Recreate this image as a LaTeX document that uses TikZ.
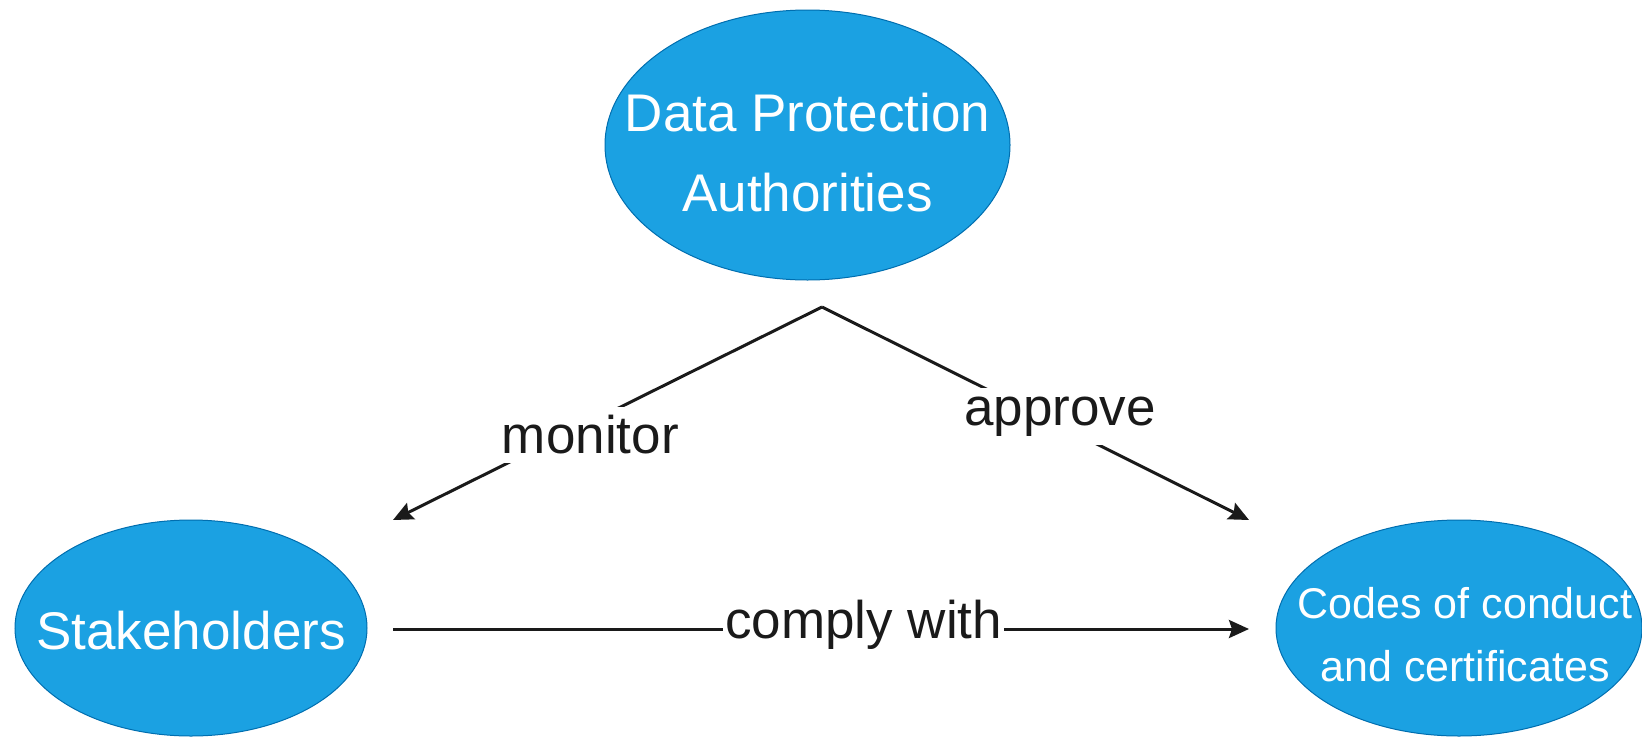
\documentclass[tikz,border=0pt]{standalone}
\usepackage{fontspec}
\setmainfont{Liberation Sans}
\usetikzlibrary{shapes.geometric,arrows.meta}
\definecolor{bubblefill}{HTML}{1BA1E2}
\definecolor{bubbleline}{HTML}{006EAF}
\definecolor{edgecol}{HTML}{1A1A1A}
\tikzset{
  bubble/.style={ellipse, draw=bubbleline, line width=1pt, fill=bubblefill, inner sep=0pt},
  bigtext/.style={text=white, align=center, inner sep=0pt, font=\fontsize{53}{80}\selectfont},
  smalltext/.style={text=white, align=center, inner sep=0pt, font=\fontsize{43}{63}\selectfont},
  conn/.style={draw=edgecol, line width=3pt, -{Stealth[length=20pt,width=18pt,inset=3pt]}},
  elabel/.style={fill=white, inner xsep=2pt, inner ysep=9pt, text=edgecol, font=\fontsize{53}{64}\selectfont}
}
\begin{document}
\begin{tikzpicture}[x=1pt,y=-1pt]
\useasboundingbox (0,0) rectangle (1642,737);
\node[bubble, minimum width=405pt, minimum height=270pt,
  label={[bigtext, yshift=-8pt]center:{Data Protection\\Authorities}}] (dpa) at (807.5,145) {};
\node[bubble, minimum width=352pt, minimum height=216pt,
  label={[bigtext, yshift=-3pt]center:{Stakeholders}}] (stake) at (191,628) {};
\node[bubble, minimum width=366pt, minimum height=216pt,
  label={[smalltext, yshift=-7pt, xshift=6pt]center:{Codes of conduct\\and certificates}}] (codes) at (1459,628) {};
\coordinate (apex) at (822,307);
\coordinate (monend) at (393,520);
\coordinate (append) at (1249,520);
\coordinate (cstart) at (393,629);
\coordinate (cend) at (1249,629);
\draw[conn] (apex) -- node[elabel, pos=0.54, yshift=-13pt] (lmon) {monitor} (monend);
\draw[conn] (apex) -- node[elabel, pos=0.557, yshift=9pt] (lapp) {approve} (append);
\draw[conn] (cstart) -- node[elabel, inner ysep=2pt, pos=0.55, yshift=4pt] (lcomp) {comply with} (cend);
\end{tikzpicture}
\end{document}
